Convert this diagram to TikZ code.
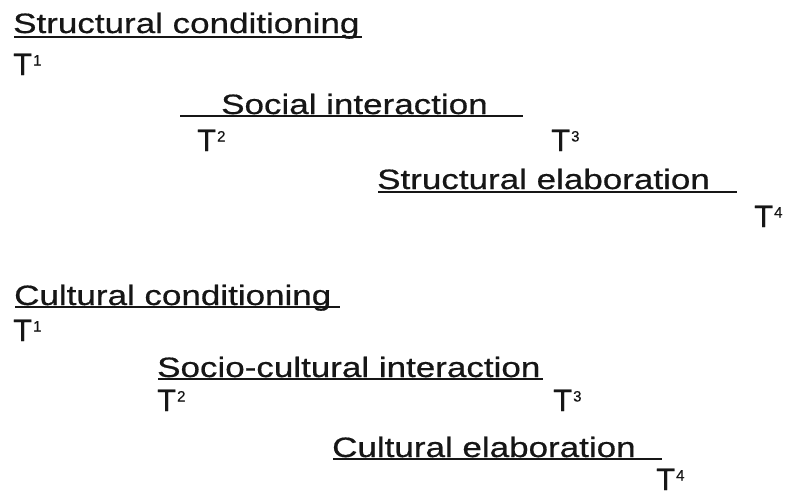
\documentclass[tikz,border=0pt]{standalone}
\usepackage{fontspec}
\setmainfont{Liberation Sans}[FakeBold=0.5]
\newfontfamily\widefont{Liberation Sans}[FakeStretch=1.25,FakeBold=0.6]
\definecolor{ink}{RGB}{22,22,22}
% time marker: T with a small raised index
\newcommand\timemark[1]{T\kern1pt\raisebox{9.5pt}{\fontsize{15}{15}\selectfont #1}}
\begin{document}
\begin{tikzpicture}[x=1pt,y=-1pt,
  phase/.style={anchor=base west, inner sep=0pt, text=ink,
    font=\widefont\fontsize{28}{28}\selectfont},
  tmark/.style={anchor=base west, inner sep=0pt, text=ink,
    font=\fontsize{31}{31}\selectfont},
  rule/.style={draw=ink, line width=1.7pt}]
\fill[white] (0,0) rectangle (793,496);
\useasboundingbox (0,0) rectangle (793,496);

% ---- structural cycle ----
\node[phase] (sc) at (13,33) {Structural conditioning};
\node[tmark] (sT1) at (13,75) {\timemark{1}};
\node[phase] (si) at (221,114) {Social interaction};
\node[tmark] (sT2) at (197,151) {\timemark{2}};
\node[tmark] (sT3) at (551,151) {\timemark{3}};
\node[phase] (se) at (377,189) {Structural elaboration};
\node[tmark] (sT4) at (754,227) {\timemark{4}};

\coordinate (scA) at (14,37);  \coordinate (scB) at (362,37);
\coordinate (siA) at (180,116); \coordinate (siB) at (523,116);
\coordinate (seA) at (378,192); \coordinate (seB) at (737,192);
\draw[rule] (scA) -- (scB);
\draw[rule] (siA) -- (siB);
\draw[rule] (seA) -- (seB);

% ---- cultural cycle ----
\node[phase] (cc) at (14,305) {Cultural conditioning};
\node[tmark] (cT1) at (13,341) {\timemark{1}};
\node[phase] (ci) at (157,377) {Socio-cultural interaction};
\node[tmark] (cT2) at (157,411) {\timemark{2}};
\node[tmark] (cT3) at (553,411) {\timemark{3}};
\node[phase] (ce) at (332,457) {Cultural elaboration};
\node[tmark] (cT4) at (656,490) {\timemark{4}};

\coordinate (ccA) at (15,307);  \coordinate (ccB) at (340,307);
\coordinate (ciA) at (158,379); \coordinate (ciB) at (543,379);
\coordinate (ceA) at (333,459); \coordinate (ceB) at (662,459);
\draw[rule] (ccA) -- (ccB);
\draw[rule] (ciA) -- (ciB);
\draw[rule] (ceA) -- (ceB);
\end{tikzpicture}
\end{document}
